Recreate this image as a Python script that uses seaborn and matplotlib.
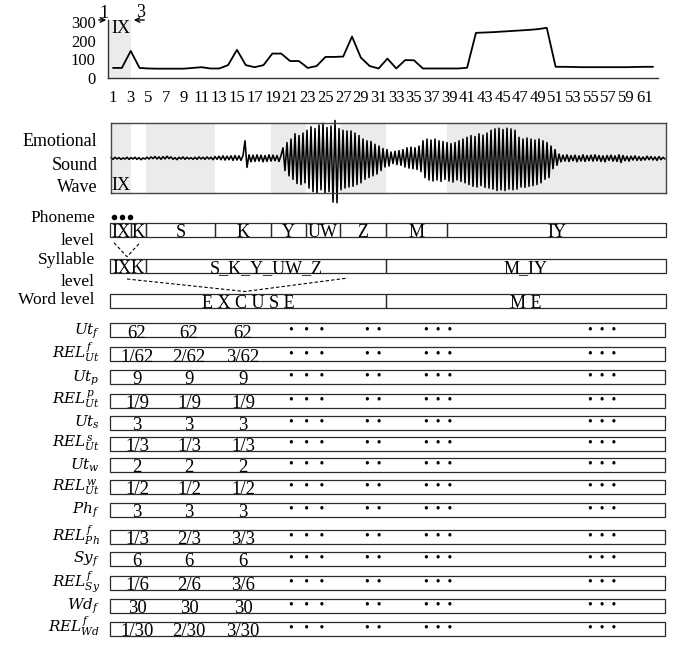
import numpy as np
import matplotlib
matplotlib.use("Agg")
import matplotlib.pyplot as plt
from matplotlib.patches import Rectangle
import seaborn as sns

# ── Data ───────────────────────────────────────────────────────────
frames = list(range(1, 63))
frame_vals = [54, 54, 145, 54, 51, 50, 50, 50, 50, 54,
              58, 51, 51, 69, 151, 69, 58, 69, 131, 131,
              91, 91, 54, 64, 113, 113, 115, 222, 109, 64,
              51, 104, 51, 96, 95, 51, 51, 51, 51, 51,
              55, 242, 244, 246, 249, 252, 255, 258, 262, 269,
              60, 60, 59, 58, 58, 58, 58, 58, 58, 59, 60, 60]
frame_ticks = list(range(1, 62, 2))
value_ticks = [0, 100, 200, 300]

# sound wave samples (normalised amplitude)
wave = [
    0.02, -0.03, 0.03, -0.02, 0.02, -0.03, 0.01, -0.02, 0.03, -0.03, 0.02, -0.02, 0.03, -0.03, 0.02, -0.04, 0.01, -0.02, 0.03, -0.02,
    0.04, -0.01, 0.05, -0.02, 0.04, -0.03, 0.05, -0.02, 0.06, -0.01, 0.04, -0.03, 0.02, -0.04, 0.03, -0.02, 0.04, -0.03, 0.03, -0.02,
    0.02, -0.03, 0.03, -0.03, 0.04, -0.02, 0.03, -0.03, 0.04, -0.02, 0.03, -0.04, 0.05, -0.03, 0.06, -0.04, 0.07, -0.05, 0.06, -0.04,
    0.07, -0.06, 0.08, -0.05, 0.07, -0.06, 0.08, 0.50, -0.26, 0.10, -0.10, 0.09, -0.09, 0.10, -0.08, 0.09, -0.10, 0.08, -0.09, 0.10,
    -0.08, 0.09, -0.07, 0.08, -0.09, 0.08, 0.30, -0.35, 0.45, -0.50, 0.55, -0.60, 0.70, -0.72, 0.65, -0.75, 0.72, -0.70, 0.80, -0.85,
    0.90, -0.95, 0.85, -1.00, 0.95, -0.90, 1.00, -1.00, 0.88, -0.95, 0.92, -1.25, 1.08, -1.27, 0.85, -0.90, 0.80, -0.85, 0.78, -0.82,
    0.78, -0.80, 0.72, -0.75, 0.65, -0.70, 0.55, -0.60, 0.50, -0.55, 0.48, -0.50, 0.40, -0.45, 0.35, -0.35, 0.28, -0.25, 0.25, -0.22,
    0.18, -0.15, 0.20, -0.18, 0.22, -0.20, 0.25, -0.25, 0.30, -0.28, 0.32, -0.30, 0.30, -0.32, 0.35, -0.38, 0.50, -0.55, 0.55, -0.62,
    0.52, -0.65, 0.55, -0.62, 0.50, -0.66, 0.48, -0.60, 0.45, -0.65, 0.42, -0.68, 0.45, -0.62, 0.50, -0.66, 0.55, -0.70, 0.60, -0.75,
    0.65, -0.80, 0.62, -0.82, 0.70, -0.78, 0.66, -0.83, 0.72, -0.85, 0.80, -0.88, 0.84, -0.92, 0.86, -0.90, 0.82, -0.92, 0.86, -0.88,
    0.84, -0.90, 0.80, -0.88, 0.60, -0.82, 0.55, -0.83, 0.58, -0.80, 0.55, -0.78, 0.52, -0.75, 0.55, -0.70, 0.50, -0.60, 0.45, -0.55,
    0.35, -0.30, 0.25, -0.20, 0.12, -0.10, 0.09, -0.08, 0.10, -0.09, 0.08, -0.07, 0.09, -0.10, 0.07, -0.08, 0.10, -0.09, 0.08, -0.07,
    0.09, -0.08, 0.10, -0.07, 0.08, -0.09, 0.07, -0.10, 0.08, -0.06, 0.09, -0.08, 0.07, -0.09, 0.10, -0.12, 0.08, -0.07, 0.06, -0.08,
    0.06, -0.05, 0.07, -0.06, 0.05, -0.06, 0.04, -0.05, 0.06, -0.04, 0.05, -0.05, 0.04, -0.06, 0.05, -0.04, 0.03, -0.02,
]

phonemes = ['IX', 'K', 'S', 'K', 'Y', 'UW', 'Z', 'M', 'IY']
phoneme_edges = [110, 131, 146, 215, 271, 306, 340, 386, 447, 666]
syllables = ['IXK', 'S_K_Y_UW_Z', 'M_IY']
syllable_edges = [110, 146, 386, 666]
words = ['E X C U S E', 'M E']
word_edges = [110, 386, 666]

row_labels = [r'$Ut_f$', r'$REL^{f}_{Ut}$', r'$Ut_p$', r'$REL^{p}_{Ut}$',
              r'$Ut_s$', r'$REL^{s}_{Ut}$', r'$Ut_w$', r'$REL^{w}_{Ut}$',
              r'$Ph_f$', r'$REL^{f}_{Ph}$', r'$Sy_f$', r'$REL^{f}_{Sy}$',
              r'$Wd_f$', r'$REL^{f}_{Wd}$']
row_values = [['62', '62', '62'], ['1/62', '2/62', '3/62'],
              ['9', '9', '9'], ['1/9', '1/9', '1/9'],
              ['3', '3', '3'], ['1/3', '1/3', '1/3'],
              ['2', '2', '2'], ['1/2', '1/2', '1/2'],
              ['3', '3', '3'], ['1/3', '2/3', '3/3'],
              ['6', '6', '6'], ['1/6', '2/6', '3/6'],
              ['30', '30', '30'], ['1/30', '2/30', '3/30']]
ellipses = ['•   •   •', '•  •', '•  •  •', '•  •  •']

# ── Style ──────────────────────────────────────────────────────────
sns.set_theme(style='white')
plt.rcParams['font.family'] = ['Liberation Serif', 'DejaVu Serif']
plt.rcParams['mathtext.fontset'] = 'dejavuserif'
plt.rcParams['text.color'] = 'black'
plt.rcParams['xtick.color'] = 'black'
plt.rcParams['ytick.color'] = 'black'

GRAY = '#ebebeb'
EDGE = '#2a2a2a'
W, H = 678, 645
fig = plt.figure(figsize=(W / 100, H / 100), dpi=100)
fig.patch.set_facecolor('white')


def px_axes(left, top, right, bottom):
    return fig.add_axes([left / W, 1 - bottom / H, (right - left) / W, (bottom - top) / H])


# ── Frame value line chart ─────────────────────────────────────────
ax1 = px_axes(108, 20, 658, 78)
unit = 540 / 61
xlo, xhi = 1 - 5 / unit, 62 + 5 / unit
ax1.axvspan(xlo, 3, color=GRAY, lw=0, zorder=0)
sns.lineplot(x=frames, y=frame_vals, ax=ax1, color='black', lw=1.3)
ax1.set_xlim(xlo, xhi)
ax1.set_ylim(0, 311)
ax1.set_xticks(frame_ticks)
ax1.set_yticks(value_ticks)
ax1.tick_params(axis='both', length=0, labelsize=12)
ax1.tick_params(axis='x', pad=9)
ax1.tick_params(axis='y', pad=9)
for s in ['top', 'right']:
    ax1.spines[s].set_visible(False)
for s in ['left', 'bottom']:
    ax1.spines[s].set_color('#333333')
    ax1.spines[s].set_linewidth(1.0)
ax1.patch.set_alpha(0)

# ── Sound wave ─────────────────────────────────────────────────────
ax2 = px_axes(110.5, 123.3, 666, 193.3)
for i in range(0, len(phonemes), 2):
    ax2.axvspan(phoneme_edges[i], phoneme_edges[i + 1], color=GRAY, lw=0, zorder=0)
wave_x = np.linspace(111, 665, len(wave))
sns.lineplot(x=wave_x, y=wave, ax=ax2, color='black', lw=1.15, estimator=None)
for line in ax2.lines:
    line.set_clip_on(False)
ax2.set_xlim(110.5, 666)
ax2.set_ylim(-1, 1)
ax2.set_xticks([])
ax2.set_yticks([])
for s in ax2.spines.values():
    s.set_color('#444444')
    s.set_linewidth(1.0)

# ── Overlay: labels, segment rows and table ───────────────────────
ov = fig.add_axes([0, 0, 1, 1])
ov.set_xlim(0, W)
ov.set_ylim(H, 0)
ov.axis('off')
ov.set_zorder(10)
ov.patch.set_visible(False)

# frame markers on the chart
ov.annotate('', xy=(109, 20), xytext=(96, 20),
            arrowprops=dict(arrowstyle='->', lw=1.0, color='black', mutation_scale=8))
ov.annotate('', xy=(131, 20), xytext=(147, 20),
            arrowprops=dict(arrowstyle='->', lw=1.0, color='black', mutation_scale=8))
ov.text(104, 18.5, '1', ha='center', va='baseline', fontsize=13)
ov.text(141, 17, '3', ha='center', va='baseline', fontsize=13)
ov.text(120.5, 33, 'IX', ha='center', va='baseline', fontsize=13)

# sound wave labels
for txt, yb in zip(['Emotional', 'Sound', 'Wave'], [146.5, 169.5, 191.5]):
    ov.text(97.5, yb, txt, ha='right', va='baseline', fontsize=13)
ov.text(121, 190.5, 'IX', ha='center', va='baseline', fontsize=13)

# level labels
for txt, yb in [('Phoneme', 221.5), ('level', 245), ('Syllable', 263.5),
                ('level', 286.5), ('Word level', 303.5)]:
    ov.text(95, yb, txt, ha='right', va='baseline', fontsize=12.5)


def seg_row(names, edges, top, bottom):
    for k, name in enumerate(names):
        ov.add_patch(Rectangle((edges[k], top), edges[k + 1] - edges[k], bottom - top,
                               fill=False, ec=EDGE, lw=0.9))
        ov.text((edges[k] + edges[k + 1]) / 2, bottom - 0.5, name,
                ha='center', va='baseline', fontsize=13)


seg_row(phonemes, phoneme_edges, 223, 237.3)
seg_row(syllables, syllable_edges, 259, 273.3)
seg_row(words, word_edges, 293.5, 308.3)

# three-frame marker above the IX phoneme
ov.scatter([113.5, 121.5, 129.5], [216.5] * 3, s=16, color='black', lw=0)
dash = (0, (3, 2))
ov.plot([114, 127, 140], [242.7, 256.7, 242.7], ls=dash, lw=0.8, color='black')
ov.plot([127, 245, 348], [279, 291.5, 278], ls=dash, lw=0.8, color='black')

# table rows
row_tops = [323, 347, 370, 393.5, 415.5, 436.5, 458, 480, 502.5, 530,
            551.5, 575.5, 598.5, 621.5]
row_h = 14
value_cols = [137, 189, 243]
dot_cols = [307, 373, 438, 602]
for lab, vals, top in zip(row_labels, row_values, row_tops):
    ov.add_patch(Rectangle((109.5, top), 665 - 109.5, row_h, fill=False, ec=EDGE, lw=0.9))
    ov.text(100, top + row_h / 2 + 4.5, lab, ha='right', va='baseline', fontsize=11)
    for cx, v in zip(value_cols, vals):
        ov.text(cx, top + row_h + 0.5, v, ha='center', va='baseline', fontsize=13.5)
    for cx, d in zip(dot_cols, ellipses):
        ov.text(cx, top + row_h / 2, d, ha='center', va='center', fontsize=10)

fig.savefig('out.png', dpi=100)
